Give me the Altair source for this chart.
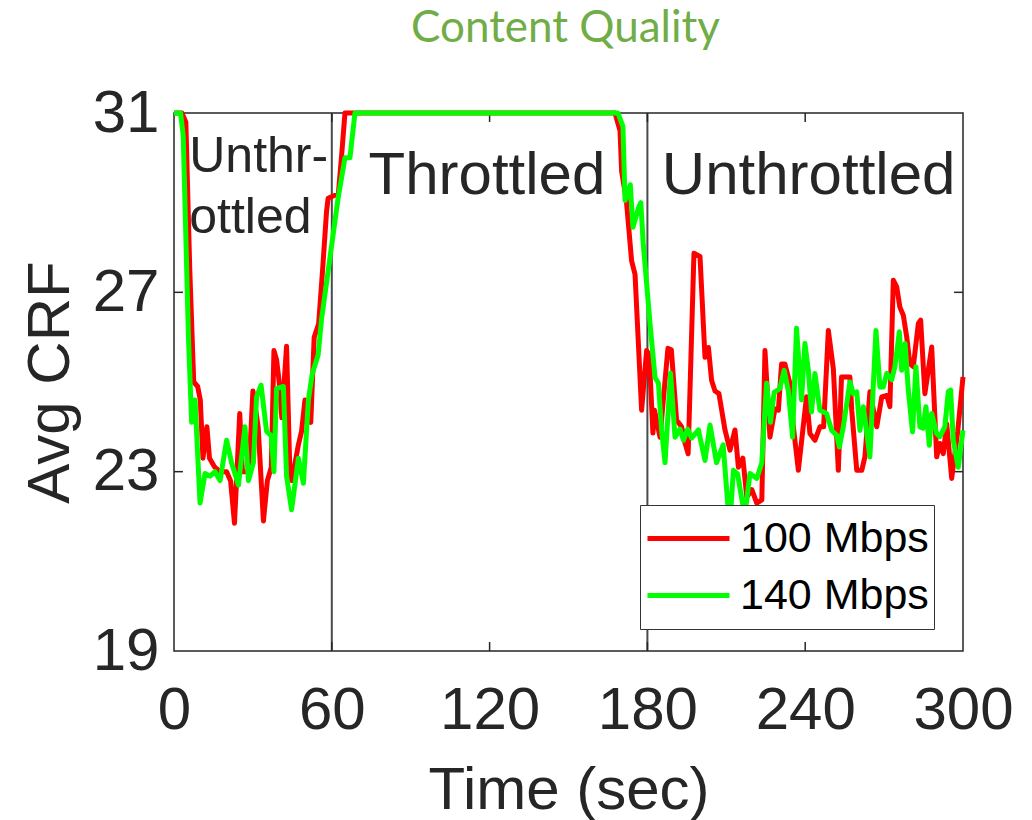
import altair as alt
import pandas as pd

# Average CRF over time for two link capacities
links = ["100 Mbps", "140 Mbps"]
link_colors = ["#ff0000", "#00ff00"]

t_100 = [0, 3, 4.5, 6, 7.5, 9, 10, 11, 12.5, 13.5, 15.5, 17.5, 20, 21.5, 23, 25, 26,
         28.5, 30, 32, 34, 35.5, 37, 38, 39, 40, 41, 42.8, 44, 44.8, 47.3, 48.5, 49.8,
         52, 53.3, 55, 56.5, 58, 58.6, 62.5, 63.8, 65, 100, 140, 167.7, 169.6, 170.2,
         172, 174, 175.3, 177.8, 179.7, 180.7, 182.1, 182.7, 184.8, 187.8, 189.1, 191.1,
         193, 194, 195.5, 197.7, 200, 201.9, 203.2, 204.4, 205.7, 207.2, 209.5, 211.4,
         213.3, 214.6, 216.3, 217.8, 219.7, 221.6, 223.5, 224.7, 226.6, 228.5, 229.8,
         231, 232.3, 234.2, 235.5, 237.4, 240.5, 241.8, 243.7, 245.6, 247, 248.8, 250.7,
         252.6, 253.8, 257, 257.7, 259.6, 261.5, 262.7, 264.6, 267.2, 269.1, 271, 272.2,
         273.5, 274.8, 276, 277.3, 278.6, 279.8, 281.1, 283, 283.9, 285.5, 288.1, 290,
         291.2, 292.5, 293.8, 295.7, 298, 300]
crf_100 = [31, 31, 30.8, 27.5, 25.0, 24.9, 24.6, 23.3, 24.0, 23.3, 23.1, 23.0, 23.0, 22.8,
           21.85, 24.3, 23.0, 23.0, 24.8, 24.0, 21.9, 22.8, 23.1, 25.7, 25.5, 25.0, 24.2,
           25.8, 23.1, 22.8, 23.6, 23.9, 24.6, 24.1, 26.0, 26.3, 27.5, 28.8, 29.1, 29.2,
           30.1, 31, 31, 31, 31, 30.6, 29.7, 29.05, 27.7, 27.4, 24.37, 25.7, 25.6, 23.86,
           24.37, 23.77, 25.75, 25.72, 24.15, 24.0, 23.7, 23.4, 27.87, 27.8, 25.55, 25.77,
           25.04, 24.8, 24.74, 23.93, 23.48, 23.93, 23.1, 23.3, 22.43, 22.6, 22.3, 22.37,
           25.7, 23.77, 24.4, 24.37, 25.4, 25.4, 24.97, 24.0, 23.03, 24.67, 23.85, 23.7,
           24.0, 24.0, 26.15, 25.3, 23.03, 25.11, 25.11, 24.37, 23.03, 23.03, 23.33, 24.78,
           24.0, 24.67, 24.7, 24.45, 27.27, 27.12, 26.67, 26.49, 26.0, 25.41, 25.34, 26.3,
           26.38, 24.74, 25.78, 23.33, 23.63, 23.4, 24.07, 22.85, 23.9, 25.11]

t_140 = [0, 2.5, 3.5, 5.5, 6.7, 8, 9.9, 11.8, 13.7, 15.6, 17.5, 20, 21.9, 24.5, 27, 28.3,
         30.2, 31.4, 33.1, 35.2, 37, 38, 39, 41.6, 42.8, 44.7, 47.3, 49.2, 51.1, 52.6,
         54.8, 56.1, 62.4, 65, 66.9, 68.8, 100, 140, 168.8, 170.7, 171.5, 173.5, 174.5,
         176.7, 177.5, 178.4, 181, 182.9, 184.2, 185.4, 186.7, 188.8, 190.5, 192.4, 193.7,
         195.3, 196.8, 199.4, 201.9, 203.8, 206.3, 208.8, 210.8, 211.5, 212.7, 214.3, 217,
         219, 221.6, 223.5, 225.3, 226.8, 228.2, 230.3, 232, 233.6, 235.2, 236.7, 238.6,
         239.9, 241.2, 242.4, 243.7, 245.6, 248.1, 250.1, 252, 253, 254.5, 257, 258.3,
         259.6, 260.8, 262.1, 264.6, 266.9, 268.4, 269.7, 271, 272.9, 274.1, 275.8, 276.7,
         278, 279.2, 280.8, 282.1, 283.6, 284.8, 285.9, 287.2, 288.1, 290, 291.2, 293.1,
         294.4, 295.3, 296.3, 298.2, 300]
crf_140 = [31, 31, 30.5, 26.0, 24.1, 24.6, 22.3, 22.96, 22.9, 23.0, 22.8, 23.7, 23.2, 22.7,
           24.0, 22.8, 23.2, 24.67, 24.93, 23.9, 23.8, 23.0, 24.85, 24.9, 22.9, 22.15, 23.3,
           22.74, 24.6, 25.19, 25.6, 26.4, 29.1, 30.0, 30.0, 31, 31, 31, 31, 30.7, 29.05,
           29.4, 28.45, 28.9, 29.0, 28.1, 26.3, 25.1, 24.97, 23.93, 23.2, 25.2, 23.77, 23.95,
           23.7, 23.95, 23.75, 23.93, 23.25, 24.04, 23.2, 23.6, 22.1, 21.95, 23.03, 22.95,
           22.0, 22.96, 22.85, 23.2, 24.97, 24.1, 24.77, 24.85, 25.26, 24.8, 23.77, 26.2,
           24.6, 25.86, 25.26, 24.33, 25.19, 24.37, 24.3, 23.92, 23.81, 23.55, 24.0, 25.0,
           24.74, 24.78, 23.92, 24.45, 23.33, 26.15, 24.89, 24.89, 25.19, 25.05, 25.34,
           26.12, 25.26, 25.86, 24.82, 23.89, 25.34, 24.0, 23.97, 24.45, 23.59, 24.3, 23.85,
           23.78, 24.0, 24.78, 24.82, 23.7, 23.1, 23.92]

# Phase boundaries and phase labels
phase_edges = [60, 180]
phase_small_text = ["Unthr-", "ottled"]
phase_small_time = [5.8, 5.8]
phase_small_crf = [29.68, 28.32]
phase_big_text = ["Throttled", "Unthrottled"]
phase_big_time = [119, 241.3]
phase_big_crf = [29.2, 29.2]

x_ticks = [0, 60, 120, 180, 240, 300]
y_ticks = [19, 23, 27, 31]

series = pd.concat([
    pd.DataFrame({"time": t_100, "crf": crf_100, "link": links[0]}),
    pd.DataFrame({"time": t_140, "crf": crf_140, "link": links[1]}),
])

FONT = "Liberation Sans"
INK = "#262626"

x_scale = alt.Scale(domain=[0, 300], nice=False, zero=False)
y_scale = alt.Scale(domain=[19, 31], nice=False, zero=False)

lines = alt.Chart(series).mark_line(strokeWidth=5, strokeJoin="round").encode(
    x=alt.X("time:Q", scale=x_scale, title="Time (sec)",
            axis=alt.Axis(values=x_ticks, ticks=False, domain=False, grid=False,
                          labelFontSize=60, labelPadding=30, titleFontSize=60,
                          titleFontWeight="normal", titlePadding=21,
                          labelFlush=False)),
    y=alt.Y("crf:Q", scale=y_scale, title="Avg CRF",
            axis=alt.Axis(values=y_ticks, ticks=False, domain=False, grid=False,
                          labelFontSize=60, labelPadding=15, titleFontSize=60,
                          titleFontWeight="normal", titlePadding=11,
                          labelFlush=False)),
    color=alt.Color("link:N", scale=alt.Scale(domain=links, range=link_colors),
                    legend=alt.Legend(title=None, orient="none", legendX=466, legendY=392,
                                      symbolType="stroke", symbolSize=6724,
                                      symbolStrokeWidth=5, labelFontSize=43,
                                      labelFont=FONT, labelColor="black", labelLimit=400,
                                      labelOffset=8, fillColor="white",
                                      strokeColor="#333333", padding=5, clipHeight=57,
                                      rowPadding=0)),
)

edges = alt.Chart(pd.DataFrame({"time": phase_edges})).mark_rule(
    color="#4a4a4a", strokeWidth=2
).encode(x=alt.X("time:Q", scale=x_scale))

small_labels = alt.Chart(pd.DataFrame({
    "label": phase_small_text, "time": phase_small_time, "crf": phase_small_crf
})).mark_text(fontSize=50, font=FONT, color=INK, align="left", baseline="alphabetic").encode(
    x=alt.X("time:Q", scale=x_scale), y=alt.Y("crf:Q", scale=y_scale), text="label:N"
)

big_labels = alt.Chart(pd.DataFrame({
    "label": phase_big_text, "time": phase_big_time, "crf": phase_big_crf
})).mark_text(fontSize=60, font=FONT, color=INK, align="center", baseline="alphabetic").encode(
    x=alt.X("time:Q", scale=x_scale), y=alt.Y("crf:Q", scale=y_scale), text="label:N"
)

# Inward tick marks on all four sides of the box
inner_x = pd.DataFrame({"time": x_ticks[1:-1], "lo": 19.0, "lo_in": 19.2,
                        "hi": 31.0, "hi_in": 30.8})
inner_y = pd.DataFrame({"crf": y_ticks[1:-1], "left": 0.0, "left_in": 3.4,
                        "right": 300.0, "right_in": 296.6})
tick_style = dict(color=INK, strokeWidth=1.5)
ticks_bottom = alt.Chart(inner_x).mark_rule(**tick_style).encode(
    x=alt.X("time:Q", scale=x_scale), y=alt.Y("lo:Q", scale=y_scale), y2="lo_in:Q")
ticks_top = alt.Chart(inner_x).mark_rule(**tick_style).encode(
    x=alt.X("time:Q", scale=x_scale), y=alt.Y("hi:Q", scale=y_scale), y2="hi_in:Q")
ticks_left = alt.Chart(inner_y).mark_rule(**tick_style).encode(
    y=alt.Y("crf:Q", scale=y_scale), x=alt.X("left:Q", scale=x_scale), x2="left_in:Q")
ticks_right = alt.Chart(inner_y).mark_rule(**tick_style).encode(
    y=alt.Y("crf:Q", scale=y_scale), x=alt.X("right:Q", scale=x_scale), x2="right_in:Q")

chart = alt.layer(
    edges, ticks_bottom, ticks_top, ticks_left, ticks_right,
    small_labels, big_labels, lines
).resolve_scale(x="shared", y="shared").properties(
    width=789,
    height=538,
    title=alt.TitleParams("Content Quality", font="Lato", fontSize=44,
                          fontWeight="normal", color="#70ad47", anchor="middle",
                          baseline="alphabetic", offset=-3, dx=-3),
    padding={"left": 174, "top": 113, "right": 69, "bottom": 169},
    autosize=alt.AutoSizeParams(type="none"),
).configure(
    font=FONT,
).configure_axis(
    labelFont=FONT, titleFont=FONT, labelColor=INK, titleColor=INK,
).configure_view(
    stroke=INK, strokeWidth=1.5,
)

chart.save("out.html", embed_options={"renderer": "svg", "actions": False})
